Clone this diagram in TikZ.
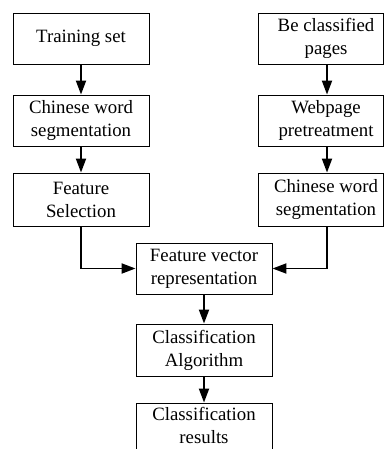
\documentclass[tikz,border=0pt]{standalone}
\usepackage{fontspec}
\setmainfont{Liberation Serif}
\usetikzlibrary{arrows.meta}
\begin{document}
\begin{tikzpicture}[x=1pt,y=-1pt,
  stepbox/.style={draw, line width=0.9pt, inner sep=0pt, minimum width=136pt,
    minimum height=51pt, align=center, font=\fontsize{18.8}{23}\selectfont},
  sidebox/.style={stepbox, minimum width=125pt},
  lbl/.style={inner sep=0pt, align=center, font=\fontsize{18.8}{23}\selectfont},
  flow/.style={line width=1.9pt, -{Triangle[length=14pt,width=10pt]}}]
\clip (0,0) rectangle (385,449);

% left branch: training data
\node[stepbox] (l1) at (81,38.5) {Training set};
\node[stepbox] (l2) at (81,120.5) {Chinese word\\segmentation};
\node[stepbox, minimum height=53pt] (l3) at (81,199.5) {Feature\\Selection};

% right branch: pages to classify
\node[sidebox] (r1) at (320.5,38.5) {};
\node[lbl] (r1t) at (r1.center) [xshift=5.5pt] {Be classified\\pages};
\node[sidebox] (r2) at (320.5,120.5) {};
\node[lbl] (r2t) at (r2.center) [xshift=5.5pt] {Webpage\\pretreatment};
\node[sidebox, minimum height=53pt] (r3) at (320.5,199.5) {};
\node[lbl] (r3t) at (r3.center) [xshift=5.5pt] {Chinese word\\segmentation};

% common trunk
\node[stepbox] (fv) at (204,268.5) {Feature vector\\representation};
\node[stepbox, minimum height=52pt] (ca) at (204,350) {Classification\\Algorithm};
% last box runs past the lower edge; its text sits slightly higher
\node[stepbox, minimum height=60pt] (cr) at (204,433) {};
\node[lbl] (crt) at (204,425.5) {Classification\\results};

% connectors
\draw[flow] (l1) -- (l2);
\draw[flow] (l2) -- (l3);
\draw[flow] ([xshift=6.5pt]r1.south) -- ([xshift=6.5pt]r2.north);
\draw[flow] ([xshift=6.5pt]r2.south) -- ([xshift=6.5pt]r3.north);
\draw[flow] (l3.south) |- (fv.west);
\draw[flow] ([xshift=6.5pt]r3.south) |- (fv.east);
\draw[flow] (fv) -- (ca);
\draw[flow] (ca) -- (cr);
\end{tikzpicture}
\end{document}
